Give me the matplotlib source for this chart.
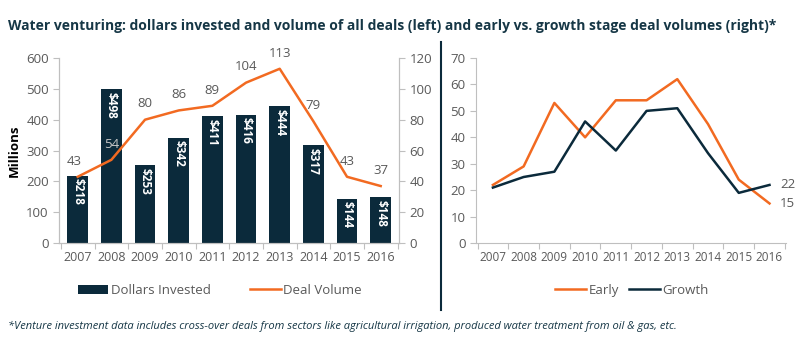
import matplotlib
matplotlib.use("Agg")
import matplotlib.pyplot as plt

plt.rcParams['font.family'] = ['Open Sans', 'DejaVu Sans']

years = [2007, 2008, 2009, 2010, 2011, 2012, 2013, 2014, 2015, 2016]
dollars = [218, 498, 253, 342, 411, 416, 444, 317, 144, 148]
deals = [43, 54, 80, 86, 89, 104, 113, 79, 43, 37]
early = [22, 29, 53, 40, 54, 54, 62, 45, 24, 15]
growth = [21, 25, 27, 46, 35, 50, 51, 34, 19, 22]

navy = '#0b2a3b'
orange = '#f26a21'
gray = '#595959'
spine = '#bfbfbf'

fig = plt.figure(figsize=(8, 3.41), dpi=100)

ax = fig.add_axes([0.074, 0.287, 0.425, 0.543])
x = list(range(len(years)))
ax.bar(x, dollars, width=0.62, color=navy, label='Dollars Invested')
for i, v in enumerate(dollars):
    ax.text(i, v - 8, '$' + str(v), rotation=270, ha='center', va='top',
            color='white', fontsize=8.5, fontweight='bold')
ax.set_ylim(0, 600)
ax.set_yticks(range(0, 601, 100))
ax.set_xlim(-0.55, 9.55)
ax.set_xticks([i - 0.5 for i in range(11)], minor=False)
ax.set_xticklabels([])
ax.set_xticks(x, minor=True)
ax.set_xticklabels(years, minor=True)
ax.tick_params(axis='x', which='major', length=4, color=spine)
ax.tick_params(axis='x', which='minor', length=0, labelsize=9, colors=gray, pad=6)
ax.tick_params(axis='y', length=4, color=spine, labelsize=9.5, labelcolor=gray)
ax.set_ylabel('Millions', fontsize=9.5, fontweight='bold', color='black', labelpad=4)
ax.spines['top'].set_visible(False)
for s in ['left', 'right', 'bottom']:
    ax.spines[s].set_color(spine)

ax2 = ax.twinx()
ax2.plot(x, deals, color=orange, lw=1.8, label='Deal Volume')
for i, v in enumerate(deals):
    c = '#c8c8c8' if i == 1 else gray
    ax2.text(i - 0.1 if i == 0 else i, v + 6, str(v), ha='center', va='bottom',
             color=c, fontsize=9.5)
ax2.set_ylim(0, 120)
ax2.set_yticks(range(0, 121, 20))
ax2.tick_params(axis='y', length=4, color=spine, labelsize=9.5, labelcolor=gray)
ax2.spines['top'].set_visible(False)
for s in ['left', 'right', 'bottom']:
    ax2.spines[s].set_color(spine)

h1, l1 = ax.get_legend_handles_labels()
h2, l2 = ax2.get_legend_handles_labels()
fig.legend(h1 + h2, l1 + l2, loc='center', bbox_to_anchor=(0.275, 0.148), ncol=2,
           frameon=False, fontsize=9.5, handlelength=2.3, columnspacing=3,
           handletextpad=0.2, labelcolor=gray)

# right chart
ax3 = fig.add_axes([0.595, 0.287, 0.388, 0.543])
ax3.plot(x, early, color=orange, lw=1.8, label='Early')
ax3.plot(x, growth, color=navy, lw=1.8, label='Growth')
ax3.text(9.35, growth[-1], str(growth[-1]), va='center', ha='left', color=gray, fontsize=9.5)
ax3.text(9.35, early[-1], str(early[-1]), va='center', ha='left', color=gray, fontsize=9.5)
ax3.set_ylim(0, 70)
ax3.set_yticks(range(0, 71, 10))
ax3.set_xlim(-0.55, 9.55)
ax3.set_xticks([i - 0.5 for i in range(11)])
ax3.set_xticklabels([])
ax3.set_xticks(x, minor=True)
ax3.set_xticklabels(years, minor=True)
ax3.tick_params(axis='x', which='major', length=4, color=spine)
ax3.tick_params(axis='x', which='minor', length=0, labelsize=8.5, colors=gray, pad=6)
ax3.tick_params(axis='y', length=4, color=spine, labelsize=9.5, labelcolor=gray)
ax3.spines['top'].set_visible(False)
ax3.spines['right'].set_visible(False)
ax3.spines['left'].set_color(spine)
ax3.spines['bottom'].set_color(spine)
fig.legend(*ax3.get_legend_handles_labels(), loc='center', bbox_to_anchor=(0.79, 0.148),
           ncol=2, frameon=False, fontsize=9.5, handlelength=2.3, columnspacing=0.8,
           handletextpad=0.2, labelcolor=gray)

# divider
fig.add_artist(plt.Line2D([0.551, 0.551], [0.091, 0.877], color=navy, lw=1.5))

fig.text(0.01, 0.925, 'Water venturing: dollars invested and volume of all deals (left) and early vs. growth stage deal volumes (right)*',
         fontsize=10, fontweight='bold', color='#163746', va='center')
fig.text(0.01, 0.044, '*Venture investment data includes cross-over deals from sectors like agricultural irrigation, produced water treatment from oil & gas, etc.',
         fontsize=8, style='italic', color='#163746', va='center')

fig.savefig('out.png', dpi=100)
